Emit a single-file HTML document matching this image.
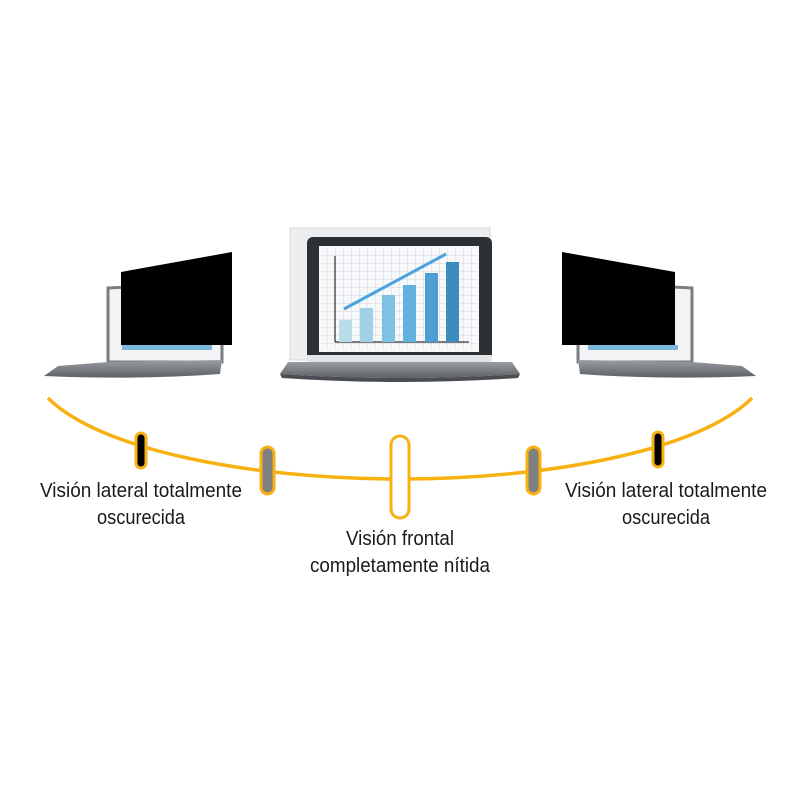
<!DOCTYPE html>
<html><head><meta charset="utf-8"><style>html,body{margin:0;padding:0;background:#fff}svg{display:block}</style></head>
<body>
<svg width="800" height="800" viewBox="0 0 800 800" xmlns="http://www.w3.org/2000/svg">
<defs>
<pattern id="grid" width="8" height="8" patternUnits="userSpaceOnUse"><path d="M8 0V8H0" fill="none" stroke="#c8ccd2" stroke-width="0.7"/></pattern>
<linearGradient id="base" x1="0" y1="0" x2="0" y2="1"><stop offset="0" stop-color="#9a9ea3"/><stop offset="1" stop-color="#5d6166"/></linearGradient>
</defs>
<!-- center laptop -->
<rect x="290" y="228" width="200" height="132" fill="#eceeef" stroke="#d6d8da"/>
<rect x="307" y="237" width="185" height="124" rx="6" fill="#2d3134"/>
<rect x="319" y="246" width="160" height="106" fill="#f7f8f9"/>
<rect x="321" y="248" width="156" height="102" fill="url(#grid)"/>
<line x1="335" y1="342" x2="469" y2="342" stroke="#333" stroke-width="1.2"/>
<line x1="335" y1="342" x2="335" y2="256" stroke="#333" stroke-width="1.2"/>
<rect x="339" y="320" width="13" height="22" fill="#b8dcea"/>
<rect x="360" y="308" width="13" height="34" fill="#9ed0e6"/>
<rect x="382" y="295" width="13" height="47" fill="#7fc1e2"/>
<rect x="403" y="285" width="13" height="57" fill="#62b0dd"/>
<rect x="425" y="273" width="13" height="69" fill="#4b9fd2"/>
<rect x="446" y="262" width="13" height="80" fill="#3c8cc2"/>
<line x1="344" y1="309" x2="446" y2="254" stroke="#4aa3dc" stroke-width="3"/>
<rect x="307" y="355" width="185" height="7" fill="#e2e4e6"/>
<path d="M288 362 H512 L520 374 Q400 382 280 374 Z" fill="url(#base)"/>
<path d="M280 374 Q400 382 520 374 L518 378 Q400 386 282 378Z" fill="#4a4d51"/>
<!-- left laptop -->
<path d="M108 288 L222 282 L222 362 L108 362 Z" fill="#f2f3f4" stroke="#7a7e82" stroke-width="3"/>
<rect x="122" y="345" width="90" height="5" fill="#7ab7dc"/>
<path d="M121 272 L232 252 L232 345 L121 345 Z" fill="#000"/>
<path d="M58 366 L108 362 L222 360 L220 374 Q140 380 44 376 Z" fill="url(#base)"/>
<!-- right laptop -->
<path d="M692 288 L578 282 L578 362 L692 362 Z" fill="#f2f3f4" stroke="#7a7e82" stroke-width="3"/>
<rect x="588" y="345" width="90" height="5" fill="#7ab7dc"/>
<path d="M675 272 L562 252 L562 345 L675 345 Z" fill="#000"/>
<path d="M742 366 L692 362 L578 360 L580 374 Q660 380 756 376 Z" fill="url(#base)"/>
<!-- curve -->
<path d="M48 398 C100 450 250 479 400 479 C550 479 700 450 752 398" fill="none" stroke="#f7b111" stroke-width="3.5"/>
<rect x="136" y="433" width="10" height="35" rx="5" fill="#000" stroke="#f7b111" stroke-width="3"/>
<rect x="261" y="447" width="13" height="47" rx="6.5" fill="#808080" stroke="#f7b111" stroke-width="3"/>
<rect x="391" y="436" width="18" height="82" rx="9" fill="#fff" stroke="#f7b111" stroke-width="3"/>
<rect x="527" y="447" width="13" height="47" rx="6.5" fill="#808080" stroke="#f7b111" stroke-width="3"/>
<rect x="653" y="432" width="10" height="35" rx="5" fill="#000" stroke="#f7b111" stroke-width="3"/>
<g font-family="Liberation Sans, sans-serif" font-size="20" fill="#1a1a1a" text-anchor="middle">
<text x="141" y="497" textLength="202" lengthAdjust="spacingAndGlyphs">Visión lateral totalmente</text>
<text x="141" y="524" textLength="88" lengthAdjust="spacingAndGlyphs">oscurecida</text>
<text x="400" y="545" textLength="108" lengthAdjust="spacingAndGlyphs">Visión frontal</text>
<text x="400" y="572" textLength="180" lengthAdjust="spacingAndGlyphs">completamente nítida</text>
<text x="666" y="497" textLength="202" lengthAdjust="spacingAndGlyphs">Visión lateral totalmente</text>
<text x="666" y="524" textLength="88" lengthAdjust="spacingAndGlyphs">oscurecida</text>
</g>
</svg>
</body></html>
